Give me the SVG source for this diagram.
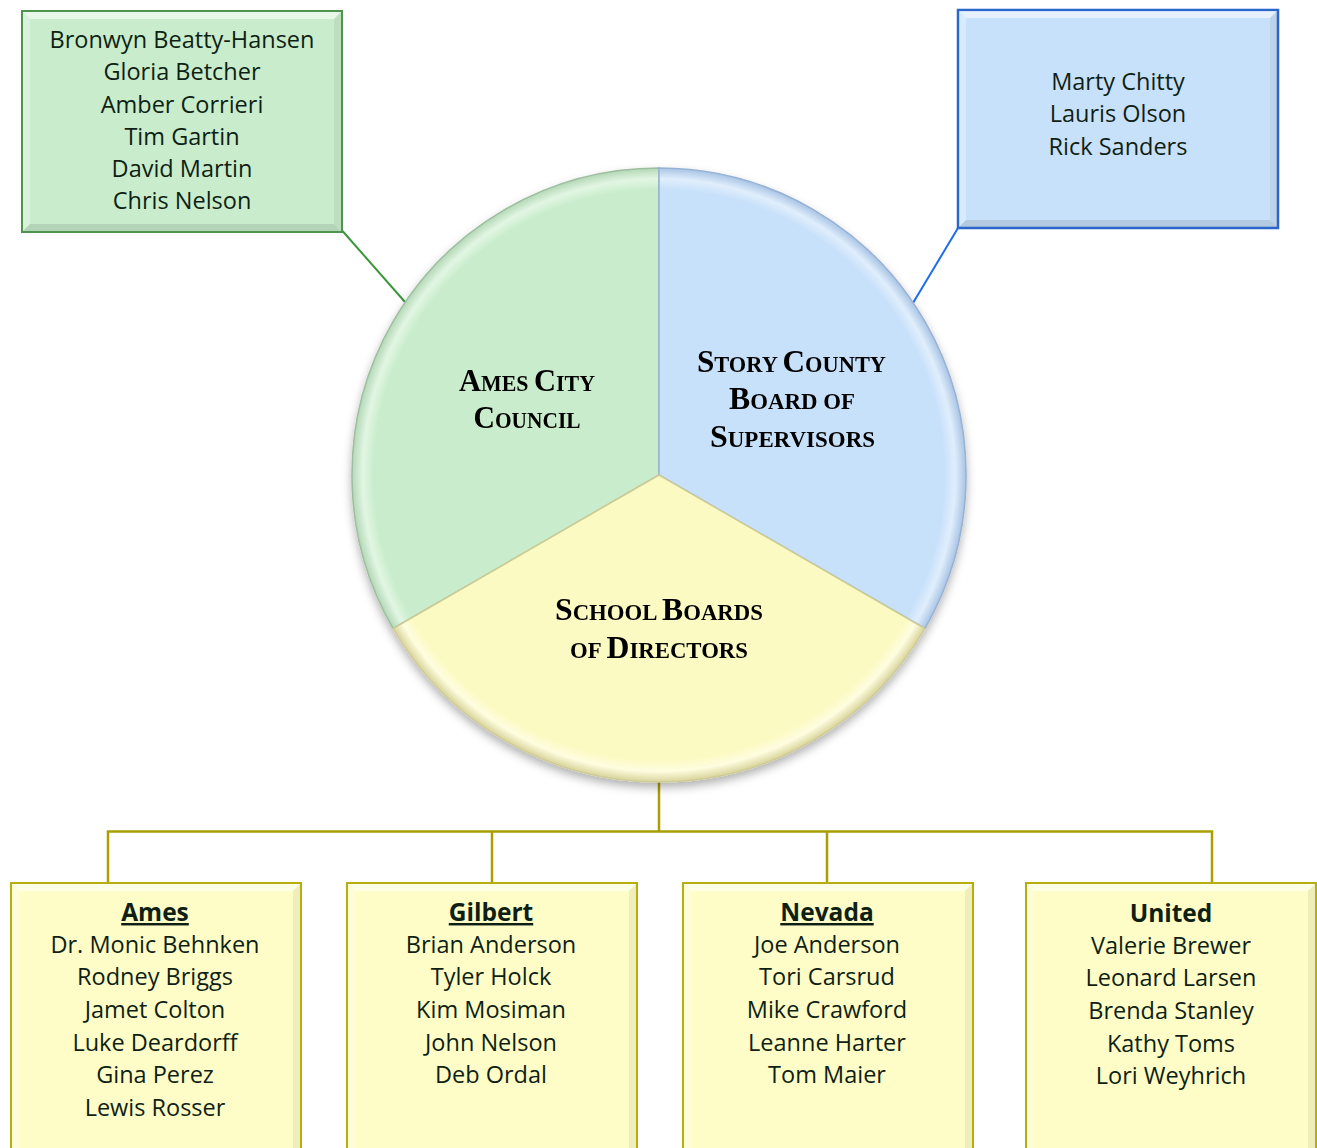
<svg xmlns="http://www.w3.org/2000/svg" width="1317" height="1148" viewBox="0 0 1317 1148">
<style>
.name{font-family:"Open Sans","Noto Sans","Liberation Sans",sans-serif;font-size:23.5px;fill:#0f1f14;text-anchor:middle}
.head{font-family:"Open Sans","Noto Sans","Liberation Sans",sans-serif;font-size:24.5px;font-weight:bold;fill:#0f1f14;text-anchor:middle}
.u{text-decoration:underline}
.pl{font-family:"Liberation Serif","Times New Roman",serif;font-weight:bold;fill:#000;text-anchor:middle}
.big{font-size:32px}
.sm{font-size:23px}
.hl{fill:#fff;opacity:.55}
.hl2{fill:#fff;opacity:.3}
.dk{fill:#000;opacity:.06}
.dk2{fill:#000;opacity:.1}
.conY{stroke:#A8A000;stroke-width:2.5;fill:none}
</style>
<defs>
<filter id="sh" x="-10%" y="-10%" width="120%" height="125%">
<feDropShadow dx="0" dy="5" stdDeviation="5" flood-color="#000" flood-opacity="0.3"/>
</filter>
<radialGradient id="gG" gradientUnits="userSpaceOnUse" cx="659" cy="475" r="307">
<stop offset="0" stop-color="#C9EDCC"/><stop offset="0.93" stop-color="#C9EDCC"/><stop offset="0.965" stop-color="#E2F6E3"/><stop offset="1" stop-color="#B4D8B7"/>
</radialGradient>
<radialGradient id="gB" gradientUnits="userSpaceOnUse" cx="659" cy="475" r="307">
<stop offset="0" stop-color="#C8E1FA"/><stop offset="0.93" stop-color="#C8E1FA"/><stop offset="0.965" stop-color="#E0EEFC"/><stop offset="1" stop-color="#A9C4E4"/>
</radialGradient>
<radialGradient id="gY" gradientUnits="userSpaceOnUse" cx="659" cy="475" r="307">
<stop offset="0" stop-color="#FCFAC3"/><stop offset="0.93" stop-color="#FCFAC3"/><stop offset="0.965" stop-color="#FEFDE0"/><stop offset="1" stop-color="#D8D49A"/>
</radialGradient>
</defs>

<g id="connectors">
<line x1="342.5" y1="231" x2="405" y2="302" stroke="#3C963C" stroke-width="2"/>
<line x1="958" y1="228" x2="913" y2="303" stroke="#1E6DEB" stroke-width="2"/>
<polyline class="conY" points="659,780 659,831.5"/>
<polyline class="conY" points="108,883 108,831.5 1212,831.5 1212,883"/>
<line class="conY" x1="492" y1="831.5" x2="492" y2="883"/>
<line class="conY" x1="827" y1="831.5" x2="827" y2="883"/>
</g>

<g id="pie" filter="url(#sh)">
<g id="slice-ames">
<path d="M659,475 L659,168 A307,307 0 0 0 393.1,628.5 Z" fill="url(#gG)" stroke="#9DBFA0" stroke-width="1.5"/>
<text class="pl" x="527" y="391" textLength="136" lengthAdjust="spacingAndGlyphs"><tspan class="big">A</tspan><tspan class="sm">MES </tspan><tspan class="big">C</tspan><tspan class="sm">ITY</tspan></text>
<text class="pl" x="527" y="428" textLength="107" lengthAdjust="spacingAndGlyphs"><tspan class="big">C</tspan><tspan class="sm">OUNCIL</tspan></text>
</g>
<g id="slice-story">
<path d="M659,475 L659,168 A307,307 0 0 1 924.9,628.5 Z" fill="url(#gB)" stroke="#97B2D6" stroke-width="1.5"/>
<text class="pl" x="791.5" y="372" textLength="189" lengthAdjust="spacingAndGlyphs"><tspan class="big">S</tspan><tspan class="sm">TORY </tspan><tspan class="big">C</tspan><tspan class="sm">OUNTY</tspan></text>
<text class="pl" x="792" y="409" textLength="126" lengthAdjust="spacingAndGlyphs"><tspan class="big">B</tspan><tspan class="sm">OARD OF</tspan></text>
<text class="pl" x="792.5" y="447" textLength="165" lengthAdjust="spacingAndGlyphs"><tspan class="big">S</tspan><tspan class="sm">UPERVISORS</tspan></text>
</g>
<g id="slice-school">
<path d="M659,475 L393.1,628.5 A307,307 0 0 0 924.9,628.5 Z" fill="url(#gY)" stroke="#CFCB95" stroke-width="1.5"/>
<text class="pl" x="659" y="620" textLength="208" lengthAdjust="spacingAndGlyphs"><tspan class="big">S</tspan><tspan class="sm">CHOOL </tspan><tspan class="big">B</tspan><tspan class="sm">OARDS</tspan></text>
<text class="pl" x="659" y="658" textLength="178" lengthAdjust="spacingAndGlyphs"><tspan class="sm">OF </tspan><tspan class="big">D</tspan><tspan class="sm">IRECTORS</tspan></text>
</g>
</g>

<g id="box-council">
<rect x="22" y="11" width="320" height="221" fill="#C9EDCC" stroke="#4E944E" stroke-width="2"/>
<polygon class="hl" points="23,12 341,12 334,19 30,19"/>
<polygon class="hl2" points="23,12 30,19 30,224 23,231"/>
<polygon class="dk" points="341,12 341,231 334,224 334,19"/>
<polygon class="dk2" points="23,231 341,231 334,224 30,224"/>
<text class="name" x="182" y="48">Bronwyn Beatty-Hansen</text>
<text class="name" x="182" y="80">Gloria Betcher</text>
<text class="name" x="182" y="113">Amber Corrieri</text>
<text class="name" x="182" y="145">Tim Gartin</text>
<text class="name" x="182" y="177">David Martin</text>
<text class="name" x="182" y="209">Chris Nelson</text>
</g>

<g id="box-supervisors">
<rect x="958" y="10" width="320" height="218" fill="#C8E1FA" stroke="#2A66CC" stroke-width="2.5"/>
<polygon class="hl" points="959,11 1277,11 1270,18 966,18"/>
<polygon class="hl2" points="959,11 966,18 966,220 959,227"/>
<polygon class="dk" points="1277,11 1277,227 1270,220 1270,18"/>
<polygon class="dk2" points="959,227 1277,227 1270,220 966,220"/>
<text class="name" x="1118" y="90">Marty Chitty</text>
<text class="name" x="1118" y="122">Lauris Olson</text>
<text class="name" x="1118" y="155">Rick Sanders</text>
</g>

<g id="box-ames">
<rect x="11" y="883" width="290" height="290" fill="#FEFDC7" stroke="#B5AE10" stroke-width="2"/>
<polygon class="hl" points="12,884 300,884 293,891 19,891"/>
<polygon class="hl2" points="12,884 19,891 19,1172 12,1172"/>
<polygon class="dk" points="300,884 300,1172 293,1172 293,891"/>
<text class="head u" x="155" y="921">Ames</text>
<text class="name" x="155" y="953">Dr. Monic Behnken</text>
<text class="name" x="155" y="985">Rodney Briggs</text>
<text class="name" x="155" y="1018">Jamet Colton</text>
<text class="name" x="155" y="1051">Luke Deardorff</text>
<text class="name" x="155" y="1083">Gina Perez</text>
<text class="name" x="155" y="1116">Lewis Rosser</text>
</g>

<g id="box-gilbert">
<rect x="347" y="883" width="290" height="290" fill="#FEFDC7" stroke="#B5AE10" stroke-width="2"/>
<polygon class="hl" points="348,884 636,884 629,891 355,891"/>
<polygon class="hl2" points="348,884 355,891 355,1172 348,1172"/>
<polygon class="dk" points="636,884 636,1172 629,1172 629,891"/>
<text class="head u" x="491" y="921">Gilbert</text>
<text class="name" x="491" y="953">Brian Anderson</text>
<text class="name" x="491" y="985">Tyler Holck</text>
<text class="name" x="491" y="1018">Kim Mosiman</text>
<text class="name" x="491" y="1051">John Nelson</text>
<text class="name" x="491" y="1083">Deb Ordal</text>
</g>

<g id="box-nevada">
<rect x="683" y="883" width="290" height="290" fill="#FEFDC7" stroke="#B5AE10" stroke-width="2"/>
<polygon class="hl" points="684,884 972,884 965,891 691,891"/>
<polygon class="hl2" points="684,884 691,891 691,1172 684,1172"/>
<polygon class="dk" points="972,884 972,1172 965,1172 965,891"/>
<text class="head u" x="827" y="921">Nevada</text>
<text class="name" x="827" y="953">Joe Anderson</text>
<text class="name" x="827" y="985">Tori Carsrud</text>
<text class="name" x="827" y="1018">Mike Crawford</text>
<text class="name" x="827" y="1051">Leanne Harter</text>
<text class="name" x="827" y="1083">Tom Maier</text>
</g>

<g id="box-united">
<rect x="1026" y="883" width="290" height="290" fill="#FEFDC7" stroke="#B5AE10" stroke-width="2"/>
<polygon class="hl" points="1027,884 1315,884 1308,891 1034,891"/>
<polygon class="hl2" points="1027,884 1034,891 1034,1172 1027,1172"/>
<polygon class="dk" points="1315,884 1315,1172 1308,1172 1308,891"/>
<text class="head" x="1171" y="922">United</text>
<text class="name" x="1171" y="954">Valerie Brewer</text>
<text class="name" x="1171" y="986">Leonard Larsen</text>
<text class="name" x="1171" y="1019">Brenda Stanley</text>
<text class="name" x="1171" y="1052">Kathy Toms</text>
<text class="name" x="1171" y="1084">Lori Weyhrich</text>
</g>
</svg>
